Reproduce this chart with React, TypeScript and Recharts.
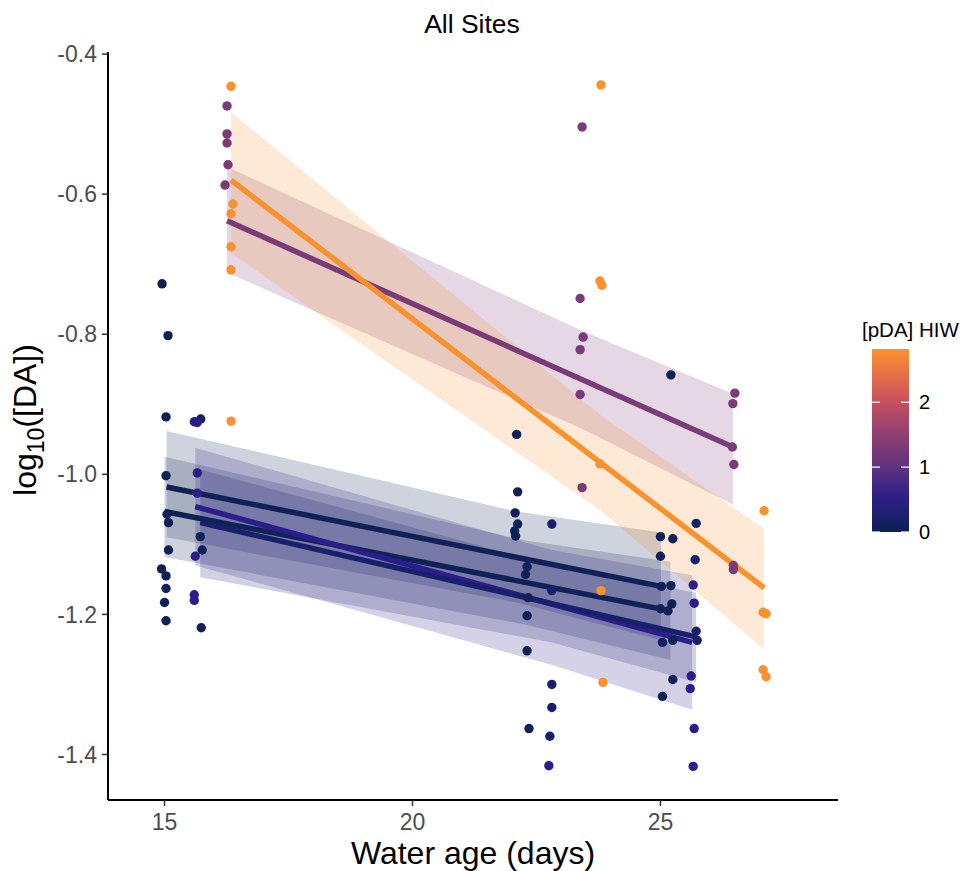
import { Area, ComposedChart, Line, Scatter, XAxis, YAxis } from "recharts";

type Pt = { x: number; y: number };
type BandPt = { x: number; lo: number; hi: number };

const FONT = "'Liberation Sans', Arial, Helvetica, sans-serif";

// observations, grouped by [pDA] HIW colour
const navyPts: Pt[] = [
  { x: 14.95, y: -0.728 }, { x: 15.07, y: -0.802 }, { x: 15.03, y: -0.918 },
  { x: 15.03, y: -1.002 }, { x: 15.05, y: -1.057 }, { x: 15.08, y: -1.069 },
  { x: 15.08, y: -1.108 }, { x: 14.94, y: -1.135 }, { x: 15.03, y: -1.145 },
  { x: 15.03, y: -1.163 }, { x: 15.0, y: -1.183 }, { x: 15.03, y: -1.209 },
  { x: 15.73, y: -0.921 }, { x: 15.72, y: -1.089 }, { x: 15.76, y: -1.108 },
  { x: 15.74, y: -1.219 },
  { x: 22.1, y: -0.943 }, { x: 22.12, y: -1.025 }, { x: 22.07, y: -1.055 },
  { x: 22.12, y: -1.071 }, { x: 22.06, y: -1.081 }, { x: 22.08, y: -1.088 },
  { x: 22.31, y: -1.132 }, { x: 22.28, y: -1.143 }, { x: 22.33, y: -1.176 },
  { x: 22.31, y: -1.202 }, { x: 22.31, y: -1.252 }, { x: 22.35, y: -1.363 },
  { x: 25.0, y: -1.089 }, { x: 25.25, y: -1.092 }, { x: 25.0, y: -1.117 },
  { x: 25.02, y: -1.16 }, { x: 25.21, y: -1.159 }, { x: 25.23, y: -1.185 },
  { x: 25.0, y: -1.192 }, { x: 25.15, y: -1.195 }, { x: 25.04, y: -1.24 },
  { x: 25.25, y: -1.237 }, { x: 25.25, y: -1.293 }, { x: 25.04, y: -1.317 },
  { x: 25.21, y: -0.858 },
];
const bluePts: Pt[] = [
  { x: 22.81, y: -1.071 }, { x: 22.81, y: -1.166 }, { x: 22.81, y: -1.3 },
  { x: 22.81, y: -1.333 }, { x: 22.77, y: -1.374 },
  { x: 25.72, y: -1.07 }, { x: 25.7, y: -1.122 }, { x: 25.72, y: -1.224 },
  { x: 25.74, y: -1.237 },
];
const indigoPts: Pt[] = [
  { x: 15.6, y: -0.925 }, { x: 15.66, y: -0.926 }, { x: 15.66, y: -0.998 },
  { x: 15.66, y: -1.027 }, { x: 15.62, y: -1.117 }, { x: 15.6, y: -1.172 },
  { x: 15.6, y: -1.18 }, { x: 22.75, y: -1.416 },
  { x: 25.66, y: -1.158 }, { x: 25.68, y: -1.184 }, { x: 25.62, y: -1.288 },
  { x: 25.6, y: -1.306 }, { x: 25.68, y: -1.363 }, { x: 25.66, y: -1.417 },
];
const purplePts: Pt[] = [
  { x: 16.26, y: -0.474 }, { x: 16.26, y: -0.514 }, { x: 16.26, y: -0.527 },
  { x: 16.28, y: -0.558 }, { x: 16.22, y: -0.587 },
  { x: 23.42, y: -0.504 }, { x: 23.38, y: -0.749 }, { x: 23.44, y: -0.804 },
  { x: 23.38, y: -0.822 }, { x: 23.38, y: -0.886 }, { x: 23.42, y: -1.019 },
  { x: 26.5, y: -0.884 }, { x: 26.46, y: -0.899 }, { x: 26.45, y: -0.961 },
  { x: 26.48, y: -0.986 }, { x: 26.47, y: -1.13 }, { x: 26.47, y: -1.136 },
];
const orangePts: Pt[] = [
  { x: 16.34, y: -0.446 }, { x: 16.38, y: -0.614 }, { x: 16.34, y: -0.628 },
  { x: 16.34, y: -0.675 }, { x: 16.34, y: -0.708 }, { x: 16.34, y: -0.924 },
  { x: 23.8, y: -0.444 }, { x: 23.78, y: -0.724 }, { x: 23.82, y: -0.73 },
  { x: 23.78, y: -0.985 }, { x: 23.8, y: -1.166 }, { x: 23.84, y: -1.297 },
  { x: 27.09, y: -1.052 }, { x: 27.07, y: -1.197 }, { x: 27.13, y: -1.199 },
  { x: 27.07, y: -1.279 }, { x: 27.13, y: -1.289 },
];

// fitted lines per site
const fitOrange: Pt[] = [{ x: 16.34, y: -0.58 }, { x: 27.09, y: -1.162 }];
const fitPurple: Pt[] = [{ x: 16.26, y: -0.638 }, { x: 26.46, y: -0.961 }];
const fitNavyA: Pt[] = [{ x: 15.04, y: -1.018 }, { x: 25.01, y: -1.16 }];
const fitNavyB: Pt[] = [{ x: 15.0, y: -1.053 }, { x: 25.2, y: -1.195 }];
const fitIndigo: Pt[] = [{ x: 15.62, y: -1.046 }, { x: 25.64, y: -1.24 }];
const fitBlue: Pt[] = [{ x: 15.72, y: -1.069 }, { x: 25.72, y: -1.232 }];

// confidence ribbons
const bandOrange: BandPt[] = [
  { x: 16.34, lo: -0.684, hi: -0.483 },
  { x: 23.8, lo: -1.052, hi: -0.916 },
  { x: 27.09, lo: -1.25, hi: -1.078 },
];
const bandPurple: BandPt[] = [
  { x: 16.26, lo: -0.712, hi: -0.561 },
  { x: 23.42, lo: -0.935, hi: -0.795 },
  { x: 26.46, lo: -1.043, hi: -0.885 },
];
const bandNavyA: BandPt[] = [
  { x: 15.04, lo: -1.09, hi: -0.938 },
  { x: 22.1, lo: -1.183, hi: -1.053 },
  { x: 25.01, lo: -1.237, hi: -1.083 },
];
const bandNavyB: BandPt[] = [
  { x: 15.0, lo: -1.118, hi: -0.975 },
  { x: 22.31, lo: -1.215, hi: -1.095 },
  { x: 25.2, lo: -1.265, hi: -1.125 },
];
const bandIndigo: BandPt[] = [
  { x: 15.62, lo: -1.13, hi: -0.962 },
  { x: 22.8, lo: -1.272, hi: -1.108 },
  { x: 25.64, lo: -1.336, hi: -1.144 },
];
const bandBlue: BandPt[] = [
  { x: 15.72, lo: -1.147, hi: -0.993 },
  { x: 22.81, lo: -1.24, hi: -1.13 },
  { x: 25.72, lo: -1.297, hi: -1.169 },
];

const xTicks = [15, 20, 25];
const yTicks = [-1.4, -1.2, -1.0, -0.8, -0.6, -0.4];
const legendTicks = [0, 1, 2];

const C_NAVY = "#0f2157";
const C_BLUE = "#18206b";
const C_INDIGO = "#2d1d8a";
const C_PURPLE = "#7b3b79";
const C_ORANGE = "#f7922e";

const dot = (fill: string) => (p: any) => (
  <circle cx={p.cx} cy={p.cy} r={4.7} fill={fill} />
);

const series = [
  { band: bandNavyA, fit: fitNavyA, pts: navyPts, color: C_NAVY },
  { band: bandNavyB, fit: fitNavyB, pts: null, color: C_NAVY },
  { band: bandIndigo, fit: fitIndigo, pts: indigoPts, color: C_INDIGO },
  { band: bandBlue, fit: fitBlue, pts: bluePts, color: C_BLUE },
  { band: bandPurple, fit: fitPurple, pts: purplePts, color: C_PURPLE },
  { band: bandOrange, fit: fitOrange, pts: orangePts, color: C_ORANGE },
];

// colourbar geometry
const BAR_X = 872;
const BAR_TOP = 349;
const BAR_BOTTOM = 532;
const BAR_W = 37;
const BAR_MAX = 2.82;
const legendY = (v: number) => BAR_BOTTOM - (v / BAR_MAX) * (BAR_BOTTOM - BAR_TOP);

export default function App() {
  return (
    <div style={{ position: "absolute", left: 0, top: 0, width: 975, height: 871, background: "#fff", fontFamily: FONT }}>
      <ComposedChart
        width={975}
        height={871}
        margin={{ top: 52, right: 137, bottom: 0, left: 0 }}
      >
        <XAxis
          type="number"
          dataKey="x"
          domain={[13.86, 28.58]}
          ticks={xTicks}
          allowDataOverflow
          height={71}
          axisLine={{ stroke: "#000", strokeWidth: 2 }}
          tickLine={{ stroke: "#333", strokeWidth: 1.5 }}
          tickSize={6}
          tick={{ fill: "#4d4d4d", fontSize: 23, fontFamily: FONT, dy: 6 }}
        />
        <YAxis
          type="number"
          domain={[-1.465, -0.397]}
          ticks={yTicks}
          allowDataOverflow
          width={108}
          tickFormatter={(v: number) => v.toFixed(1)}
          axisLine={{ stroke: "#000", strokeWidth: 2 }}
          tickLine={{ stroke: "#333", strokeWidth: 1.5 }}
          tickSize={6}
          tick={{ fill: "#4d4d4d", fontSize: 23, fontFamily: FONT, dx: -3 }}
        />
        {series.map((s, i) => (
          <Area
            key={`band-${i}`}
            data={s.band}
            dataKey={(d: BandPt) => [d.lo, d.hi]}
            type="linear"
            stroke="none"
            fill={s.color}
            fillOpacity={0.2}
            isAnimationActive={false}
          />
        ))}
        {series.map((s, i) => (
          <Line
            key={`fit-${i}`}
            data={s.fit}
            dataKey="y"
            type="linear"
            stroke={s.color}
            strokeWidth={5.5}
            dot={false}
            activeDot={false}
            isAnimationActive={false}
          />
        ))}
        {series
          .filter((s) => s.pts)
          .map((s, i) => (
            <Scatter
              key={`pts-${i}`}
              data={s.pts as Pt[]}
              dataKey="y"
              shape={dot(s.color)}
              isAnimationActive={false}
            />
          ))}
      </ComposedChart>

      <svg
        width={975}
        height={871}
        style={{ position: "absolute", left: 0, top: 0, pointerEvents: "none" }}
        fontFamily={FONT}
      >
        <defs>
          <linearGradient id="pdaScale" x1="0" y1="1" x2="0" y2="0">
            <stop offset="0" stopColor="#0f1f52" />
            <stop offset="0.18" stopColor="#2c1f87" />
            <stop offset="0.355" stopColor="#5e337e" />
            <stop offset="0.53" stopColor="#8f3f72" />
            <stop offset="0.71" stopColor="#c6505f" />
            <stop offset="0.87" stopColor="#e87244" />
            <stop offset="1" stopColor="#fb932d" />
          </linearGradient>
        </defs>
        <text x={472} y={33} textAnchor="middle" fontSize={26.5} fill="#000">
          All Sites
        </text>
        <text x={473} y={864} textAnchor="middle" fontSize={32} fill="#000">
          Water age (days)
        </text>
        <text transform="translate(36,420) rotate(-90)" textAnchor="middle" fontSize={32} fill="#000">
          log
          <tspan dy={8} fontSize={23}>10</tspan>
          <tspan dy={-8}>([DA])</tspan>
        </text>

        <text x={862} y={337} fontSize={20.5} fill="#000">
          [pDA] HIW
        </text>
        <rect x={BAR_X} y={BAR_TOP} width={BAR_W} height={BAR_BOTTOM - BAR_TOP} fill="url(#pdaScale)" />
        {legendTicks.map((v) => (
          <g key={v}>
            <line x1={BAR_X} x2={BAR_X + 8} y1={legendY(v)} y2={legendY(v)} stroke="#fff" strokeWidth={1.2} />
            <line x1={BAR_X + BAR_W - 8} x2={BAR_X + BAR_W} y1={legendY(v)} y2={legendY(v)} stroke="#fff" strokeWidth={1.2} />
            <text x={919} y={legendY(v) + 7} fontSize={20} fill="#000">
              {v}
            </text>
          </g>
        ))}
      </svg>
    </div>
  );
}
